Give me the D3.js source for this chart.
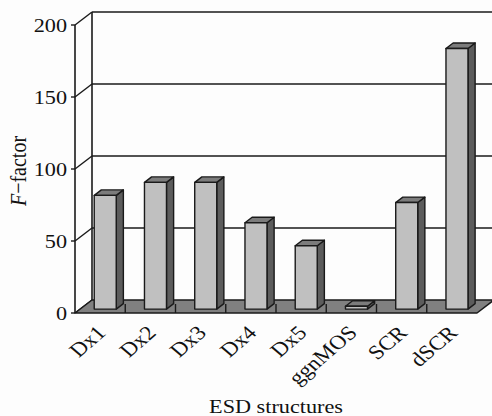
<!DOCTYPE html>
<html>
<head>
<meta charset="utf-8">
<script src="https://cdn.jsdelivr.net/npm/d3@7"></script>
<style>
  html, body { margin: 0; padding: 0; background: #fdfdfd; }
  svg { display: block; }
  text { font-family: "Liberation Serif", "Times New Roman", serif; fill: #111; }
</style>
</head>
<body>
<svg id="chart" width="492" height="416"></svg>
<script>
// F-factor of each ESD protection structure
const categories = ["Dx1", "Dx2", "Dx3", "Dx4", "Dx5", "ggnMOS", "SCR", "dSCR"];
const fFactor = [79, 88, 88, 60, 44, 2, 74, 181];
const yTicks = [0, 50, 100, 150, 200];

const svg = d3.select("#chart");

// front plane of the 3-D box
const x = d3.scaleBand().domain(categories).range([75, 477])
  .paddingInner(0.562).paddingOuter(0.281);
const xCat = d3.scaleBand().domain(categories).range([75, 477]);
const y = d3.scaleLinear().domain([0, 200]).range([313, 25]);

// oblique depth: full depth moves a point right and up
const DX = 17, DY = -13;
const P = (px, py, d) => [px + d * DX, py + d * DY];
const BAR_D0 = 0.3, BAR_D1 = 0.72;
const STRETCH = 1.17;

const ink = "#1a1a1a";
const line = (a, b, w = 1.5) => svg.append("line")
  .attr("x1", a[0]).attr("y1", a[1]).attr("x2", b[0]).attr("y2", b[1])
  .attr("stroke", ink).attr("stroke-width", w);

const x0 = xCat.range()[0], x1 = xCat.range()[1];
const vMax = y.domain()[1];

// back wall gridlines and left wall lines
yTicks.forEach(v => {
  if (v > 0) line(P(x0, y(v), 1), P(x1 + 40, y(v), 1), 1.6);
  line([x0, y(v)], P(x0, y(v), 1), 1.4);
});
line(P(x0, y(0), 1), P(x0, y(vMax), 1), 1.6);

// floor
const floorPts = [[x0, y(0)], [x1, y(0)], P(x1, y(0), 1), P(x0, y(0), 1)];
svg.append("polygon").attr("points", floorPts.map(p => p.join(",")).join(" "))
  .attr("fill", "#808080").attr("stroke", ink).attr("stroke-width", 1.5)
  .attr("stroke-linejoin", "round");

// category separators on the floor's front edge
categories.slice(1).forEach(c => {
  const xx = xCat(c);
  line([xx, y(0)], [xx, y(0) - 9], 1.4);
});

// front value axis
line([x0, y(0)], [x0, y(vMax)], 1.6);
yTicks.forEach(v => line([x0 - 4, y(v)], [x0, y(v)], 1.4));

svg.append("g").selectAll("text").data(yTicks).join("text")
  .attr("text-anchor", "end")
  .attr("transform", d => `translate(67,${y(d) + 7}) scale(${STRETCH},1)`)
  .attr("font-size", 19)
  .text(d => d);

// 3-D columns
const bars = svg.append("g");
categories.forEach((c, i) => {
  const v = fFactor[i];
  const bx0 = x(c), bx1 = x(c) + x.bandwidth();
  const yb = y(0), yt = y(v);
  const dd = BAR_D1;
  const front = [P(bx0, yb, BAR_D0), P(bx1, yb, BAR_D0), P(bx1, yt, BAR_D0), P(bx0, yt, BAR_D0)];
  const side = [P(bx1, yb, BAR_D0), P(bx1, yb, dd), P(bx1, yt, dd), P(bx1, yt, BAR_D0)];
  const top = [P(bx0, yt, BAR_D0), P(bx1, yt, BAR_D0), P(bx1, yt, dd), P(bx0, yt, dd)];
  [[side, "#5c5c5c"], [top, "#7c7c7c"], [front, "#c0c0c0"]].forEach(([pts, col]) => {
    bars.append("polygon")
      .attr("points", pts.map(p => p.join(",")).join(" "))
      .attr("fill", col).attr("stroke", ink).attr("stroke-width", 1.4)
      .attr("stroke-linejoin", "round");
  });
});

// category labels, slanted
svg.append("g").selectAll("text").data(categories).join("text")
  .attr("text-anchor", "end")
  .attr("font-size", 20)
  .attr("transform", d => `translate(${xCat(d) + xCat.bandwidth() / 2 + 7},${y(0) + 21}) scale(${STRETCH},1) rotate(-45)`)
  .text(d => d);

// axis titles
svg.append("text")
  .attr("text-anchor", "middle")
  .attr("font-size", 19)
  .attr("transform", `translate(276,413) scale(${STRETCH},1)`)
  .text("ESD structures");

const yt = svg.append("text")
  .attr("text-anchor", "middle")
  .attr("font-size", 20)
  .attr("transform", `translate(26,171) scale(${STRETCH},1) rotate(-90)`);
yt.append("tspan").attr("font-style", "italic").text("F");
yt.append("tspan").text("\u2212factor");
</script>
</body>
</html>
